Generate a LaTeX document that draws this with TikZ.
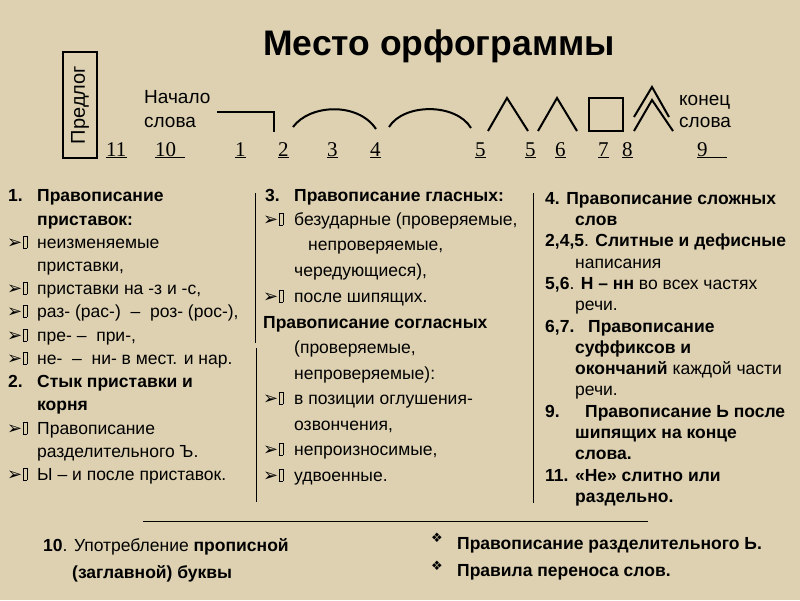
\documentclass[tikz,border=0pt]{standalone}
\usepackage{fontspec}
\setmainfont{Liberation Sans}
\newfontfamily\numfont{Liberation Serif}
\newfontfamily\symfont{DejaVu Sans}
\definecolor{parch}{RGB}{221,209,177}
\newcommand\arrb{{\symfont\fontsize{18}{18}\selectfont ➢}\hspace{0.5pt}{\setlength\fboxsep{0pt}\setlength\fboxrule{0.5pt}\fbox{\rule{0pt}{12pt}\rule{3.5pt}{0pt}}}}
\newcommand\dia{{\symfont\fontsize{13}{13}\selectfont ❖}}
\begin{document}
\begin{tikzpicture}[x=1pt,y=-1pt,
  txt/.style={anchor=base west,inner sep=0pt,font=\fontsize{17.5}{17.5}\selectfont},
  btxt/.style={txt,font=\fontsize{17.5}{17.5}\selectfont\bfseries},
  bul/.style={anchor=base west,inner sep=0pt},
  num/.style={anchor=base west,inner sep=0pt,font=\numfont\fontsize{21}{21}\selectfont},
  lbl/.style={anchor=base west,inner sep=0pt,font=\fontsize{19}{19}\selectfont},
  ntxt/.style={anchor=base west,inner sep=0pt,font=\fontsize{17.5}{17.5}\selectfont},
  sign/.style={line width=2pt},
  sep/.style={line width=1pt}]
\fill[parch] (0,0) rectangle (800,600);
\useasboundingbox (0,0) rectangle (800,600);
% title
\node[anchor=base west,inner sep=0pt,font=\fontsize{35.5}{35.5}\selectfont\bfseries] (title) at (263,55) {Место орфограммы};
% predlog
\node[draw,line width=1.2pt,rotate=90,minimum width=106,minimum height=34,inner sep=0pt,font=\fontsize{20}{20}\selectfont] (pred) at (80,105) {Предлог};
% labels
\node[lbl] (nach1) at (144,103) {Начало};
\node[lbl] (nach2) at (144,127) {слова};
\node[lbl] (kon1) at (679,105) {конец};
\node[lbl] (kon2) at (679,127) {слова};
% numbers
\node[num] (n11) at (106,156) {\underline{11\kern1pt}};
\node[num] (n10) at (155,156) {\underline{10\ \,}};
\node[num] (n1) at (235,156) {\underline{1}};
\node[num] (n2) at (278,156) {\underline{2}};
\node[num] (n3) at (327,156) {\underline{3}};
\node[num] (n4) at (370,156) {\underline{4}};
\node[num] (n5a) at (475,156) {\underline{5}};
\node[num] (n5b) at (525,156) {\underline{5}};
\node[num] (n6) at (555,156) {\underline{6}};
\node[num] (n7) at (598,156) {\underline{7}};
\node[num] (n8) at (622,156) {\underline{8}};
\node[num] (n9) at (697,156) {\underline{9\ \ \ \,}};
% morpheme signs
\draw[sign] (217,112) -- (274,112) -- (274,132);
\draw[sign] (293,127) .. controls (310,104) and (358,102) .. (376,129);
\draw[sign] (389,127) .. controls (404,103) and (456,103) .. (471,128);
\draw[sign] (488,131) -- (507,98) -- (528,131);
\draw[sign] (538,131) -- (557,98) -- (577,131);
\draw[sign] (589,98) rectangle (623,131);
\draw[sign] (634,117) -- (652,87) -- (669,117);
\draw[sign] (634,131) -- (652,100) -- (673,131);
% separators
\draw[sep] (255,193) -- (255,343);
\draw[sep] (256,348) -- (256,502);
\draw[sep] (533,193) -- (533,503);
\draw[sep] (143,521) -- (648,521);
% column 1
\node[btxt] (c1a) at (8,201.7) {1.};
\node[btxt] (c1b) at (37,201.7) {Правописание};
\node[btxt] (c1c) at (37,225) {приставок:};
\node[bul] (c1d) at (7,248) {\arrb};
\node[txt] (c1e) at (37,248) {неизменяемые};
\node[txt] (c1f) at (37,271) {приставки,};
\node[bul] (c1g) at (7,294) {\arrb};
\node[txt] (c1h) at (37,294) {приставки на -з и -с,};
\node[bul] (c1i) at (7,317) {\arrb};
\node[txt] (c1j) at (37,317) {раз- (рас-) \ – \ роз- (рос-),};
\node[bul] (c1k) at (7,341) {\arrb};
\node[txt] (c1l) at (37,341) {пре- – \ при-,};
\node[bul] (c1m) at (7,364) {\arrb};
\node[txt] (c1n) at (37,364) {не- \ – \ ни- в мест. и нар.};
\node[btxt] (c1o) at (8,387) {2.};
\node[btxt] (c1p) at (37,387) {Стык приставки и};
\node[btxt] (c1q) at (37,410) {корня};
\node[bul] (c1r) at (7,434) {\arrb};
\node[txt] (c1s) at (37,434) {Правописание};
\node[txt] (c1t) at (37,457) {разделительного Ъ.};
\node[bul] (c1u) at (7,480) {\arrb};
\node[txt] (c1v) at (37,480) {Ы – и после приставок.};
% column 2
\node[btxt] (c2a) at (265,201) {3.};
\node[btxt] (c2b) at (294,201) {Правописание гласных:};
\node[bul] (c2c) at (263,225) {\arrb};
\node[txt] (c2d) at (294,225) {безударные (проверяемые,};
\node[txt] (c2e) at (308,250) {непроверяемые,};
\node[txt] (c2f) at (294,276) {чередующиеся),};
\node[bul] (c2g) at (263,302) {\arrb};
\node[txt] (c2h) at (294,302) {после шипящих.};
\node[btxt] (c2i) at (263,328) {Правописание согласных};
\node[txt] (c2j) at (294,353) {(проверяемые,};
\node[txt] (c2k) at (294,379) {непроверяемые):};
\node[bul] (c2l) at (263,404) {\arrb};
\node[txt] (c2m) at (294,404) {в позиции оглушения-};
\node[txt] (c2n) at (294,430) {озвончения,};
\node[bul] (c2o) at (263,455) {\arrb};
\node[txt] (c2p) at (294,455) {непроизносимые,};
\node[bul] (c2q) at (263,481) {\arrb};
\node[txt] (c2r) at (294,481) {удвоенные.};
% column 3
\node[btxt] (c3a) at (545,204) {4. Правописание сложных};
\node[btxt] (c3b) at (575,225.3) {слов};
\node[txt] (c3c) at (545,246.6) {\textbf{2,4,5}. \textbf{Слитные и дефисные}};
\node[txt] (c3d) at (575,268) {написания};
\node[txt] (c3e) at (545,289) {\textbf{5,6}. \textbf{Н – нн} во всех частях};
\node[txt] (c3f) at (575,310.5) {речи.};
\node[btxt] (c3g) at (545,332) {6,7.};
\node[btxt] (c3h) at (588,332) {Правописание};
\node[btxt] (c3i) at (575,353) {суффиксов и};
\node[txt] (c3j) at (575,374.4) {\textbf{окончаний} каждой части};
\node[txt] (c3k) at (575,395.7) {речи.};
\node[btxt] (c3l) at (545,417) {9.};
\node[btxt] (c3m) at (585,417) {Правописание Ь после};
\node[btxt] (c3n) at (575,438) {шипящих на конце};
\node[btxt] (c3o) at (575,459.6) {слова.};
\node[btxt] (c3p) at (545,481) {11. «Не» слитно или};
\node[btxt] (c3q) at (575,502) {раздельно.};
% bottom
\node[ntxt] (b1) at (43,551) {\textbf{10}. Употребление \textbf{прописной}};
\node[ntxt] (b2) at (72,578) {\textbf{(заглавной) буквы}};
\node[bul] (d1) at (431,542) {\dia};
\node[ntxt] (b3) at (457,549) {\textbf{Правописание разделительного Ь.}};
\node[bul] (d2) at (431,570) {\dia};
\node[ntxt] (b4) at (457,576) {\textbf{Правила переноса слов.}};
\end{tikzpicture}
\end{document}
